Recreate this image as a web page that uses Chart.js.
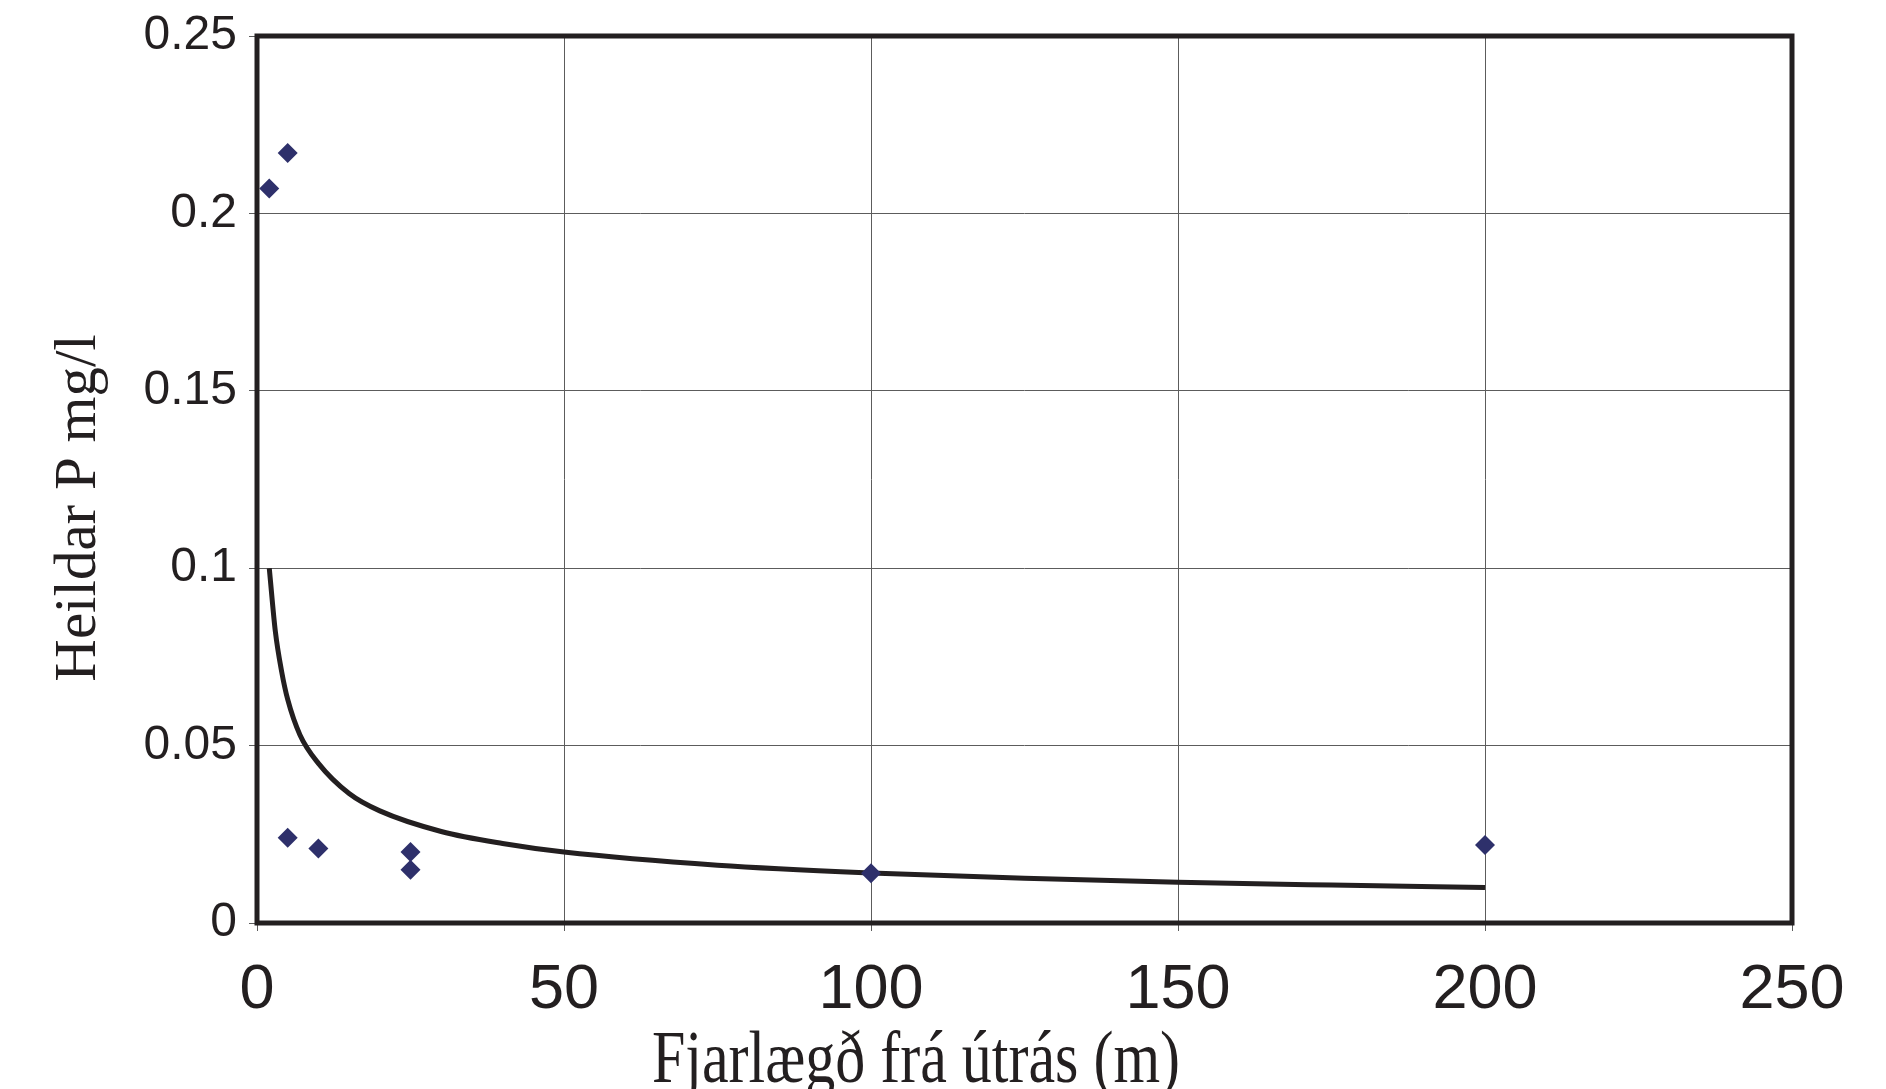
<!DOCTYPE html>
<html lang="is">
<head>
<meta charset="utf-8">
<title>Heildar P</title>
<script src="https://cdn.jsdelivr.net/npm/chart.js@4/dist/chart.umd.min.js"></script>
<style>
	html, body { margin: 0; padding: 0; background: #ffffff; }
	canvas { display: block; }
</style>
</head>
<body>
<canvas id="phosphorusChart" width="1886" height="1089"></canvas>
<script>
// measured samples: distance from outfall (m) and total P (mg/l)
const sampleDistance = [2, 5, 5, 10, 25, 25, 100, 200];
const samplePhosphorus = [0.207, 0.217, 0.024, 0.021, 0.020, 0.015, 0.014, 0.022];

// trend line
const trendDistance = [2, 3, 4, 5, 7, 10, 15, 20, 30, 40, 50, 75, 100, 125, 150, 175, 200];
const trendPhosphorus = [0.100, 0.082, 0.071, 0.063, 0.053, 0.045, 0.0365, 0.0316, 0.0258, 0.0224, 0.0200, 0.0163, 0.0141, 0.0126, 0.0115, 0.0107, 0.0100];

const xTickLabels = ['0', '50', '100', '150', '200', '250'];
const yTickLabels = ['0', '0.05', '0.1', '0.15', '0.2', '0.25'];

const xTitle = 'Fjarlægð frá útrás (m)';
const yTitle = 'Heildar P mg/l';

(() => {
	'use strict'

	const ctx = document.getElementById('phosphorusChart');
	const inkColor = '#231f20';
	const gridColor = '#5c5c5c';
	const markerColor = '#2e306b';
	const sansFont = '"Liberation Sans", Arial, sans-serif';
	const serifFont = '"Liberation Serif", "Times New Roman", serif';

	// frame round the plot and the two axis titles
	const framePlugin = {
		id: 'frameAndTitles',
		afterDraw(chart) {
			const c = chart.ctx;
			const area = chart.chartArea;
			c.save();
			c.strokeStyle = inkColor;
			c.lineWidth = 5;
			c.strokeRect(area.left, area.top, area.right - area.left, area.bottom - area.top);

			c.fillStyle = inkColor;
			c.textAlign = 'center';
			c.textBaseline = 'alphabetic';

			c.save();
			c.font = `60px ${serifFont}`;
			c.translate(916, 1082);
			c.scale(1, 1.22);
			c.fillText(xTitle, 0, 0);
			c.restore();

			c.save();
			c.font = `59px ${serifFont}`;
			c.translate(95, 508);
			c.rotate(-Math.PI / 2);
			c.fillText(yTitle, 0, 0);
			c.restore();

			c.restore();
		}
	};

	new Chart(ctx, {
		data: {
			datasets: [
				{
					type: 'scatter',
					label: 'Mælingar',
					data: sampleDistance.map((d, i) => ({ x: d, y: samplePhosphorus[i] })),
					pointStyle: 'rectRot',
					pointRadius: 10,
					pointBorderWidth: 0,
					backgroundColor: markerColor,
					borderColor: markerColor
				},
				{
					type: 'line',
					label: 'Leitnilína',
					data: trendDistance.map((d, i) => ({ x: d, y: trendPhosphorus[i] })),
					borderColor: inkColor,
					borderWidth: 5,
					pointRadius: 0,
					fill: false,
					cubicInterpolationMode: 'monotone'
				}
			]
		},
		options: {
			responsive: false,
			animation: false,
			devicePixelRatio: 1,
			layout: {
				padding: { top: 35, right: 94, left: 0, bottom: 0 }
			},
			plugins: {
				legend: { display: false },
				tooltip: { enabled: false }
			},
			scales: {
				x: {
					type: 'linear',
					min: 0,
					max: 250,
					afterFit: function(scale) {
						scale.height = 166;
					},
					border: { display: false },
					grid: {
						color: gridColor,
						lineWidth: 1,
						tickLength: 8,
						tickColor: gridColor
					},
					ticks: {
						stepSize: 50,
						autoSkip: false,
						maxRotation: 0,
						padding: 22,
						color: inkColor,
						font: { family: sansFont, size: 63 },
						callback: function(value, index) {
							return xTickLabels[index];
						}
					}
				},
				y: {
					type: 'linear',
					min: 0,
					max: 0.25,
					afterFit: function(scale) {
						scale.width = 257;
					},
					border: { display: false },
					grid: {
						color: gridColor,
						lineWidth: 1,
						tickLength: 8,
						tickColor: gridColor
					},
					ticks: {
						stepSize: 0.05,
						padding: 12,
						color: inkColor,
						font: { family: sansFont, size: 48, lineHeight: 1 },
						callback: function(value, index) {
							return yTickLabels[index];
						}
					}
				}
			}
		},
		plugins: [framePlugin]
	});
})()
</script>
</body>
</html>
